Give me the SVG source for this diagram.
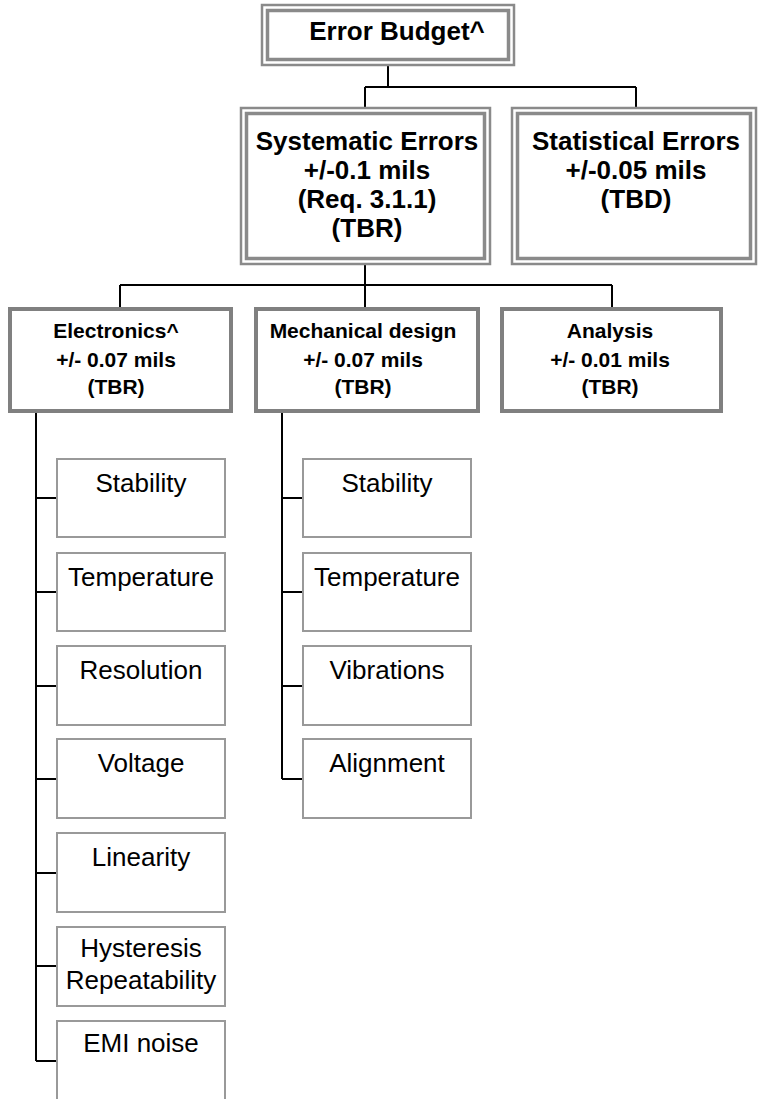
<svg xmlns="http://www.w3.org/2000/svg" width="759" height="1099" viewBox="0 0 759 1099">
<style>
.bg{fill:#fff}
.dbo{fill:#fff;stroke:#8a8a8a;stroke-width:2.5}
.dbi{fill:none;stroke:#8a8a8a;stroke-width:3.5}
.l2{fill:#fff;stroke:#808080;stroke-width:4}
.ch{fill:#fff;stroke:#999;stroke-width:2}
.conn{fill:none;stroke:#000;stroke-width:2}
.tb{font-family:"Liberation Sans",Arial,sans-serif;font-weight:bold;text-anchor:middle;fill:#000}
.big{font-size:26px}
.mid{font-size:21px}
.tr{font-family:"Liberation Sans",Arial,sans-serif;font-size:26px;text-anchor:middle;fill:#000}
</style>
<rect class="bg" x="0" y="0" width="759" height="1099"/>
<g id="connectors">
<path class="conn" d="M388,66 V87 M365,87 H636 M365,87 V107 M636,87 V107"/>
<path class="conn" d="M365,265 V285 M120,285 H612 M120,285 V307 M365,285 V307 M612,285 V307"/>
<path class="conn" d="M36,413 V1061 M36,498 H57 M36,592 H57 M36,686 H57 M36,779 H57 M36,873 H57 M36,966 H57 M36,1061 H57"/>
<path class="conn" d="M282,413 V779 M282,498 H303 M282,592 H303 M282,686 H303 M282,779 H303"/>
</g>
<g id="error-budget">
<rect class="dbo" x="262" y="5" width="252" height="60"/>
<rect class="dbi" x="267.5" y="10.5" width="241" height="49"/>
<text class="tb big" x="397" y="40">Error Budget^</text>
</g>
<g id="systematic">
<rect class="dbo" x="241" y="108" width="249" height="156"/>
<rect class="dbi" x="246.5" y="113.5" width="238" height="145"/>
<text class="tb big" x="367" y="150">Systematic Errors</text>
<text class="tb big" x="367" y="179">+/-0.1 mils</text>
<text class="tb big" x="367" y="208">(Req. 3.1.1)</text>
<text class="tb big" x="367" y="237">(TBR)</text>
</g>
<g id="statistical">
<rect class="dbo" x="512" y="108" width="244" height="156"/>
<rect class="dbi" x="517.5" y="113.5" width="233" height="145"/>
<text class="tb big" x="636" y="150">Statistical Errors</text>
<text class="tb big" x="636" y="179">+/-0.05 mils</text>
<text class="tb big" x="636" y="208">(TBD)</text>
</g>
<g id="electronics">
<rect class="l2" x="10" y="309" width="221" height="102"/>
<text class="tb mid" x="116" y="338">Electronics^</text>
<text class="tb mid" x="116" y="367">+/- 0.07 mils</text>
<text class="tb mid" x="116" y="394">(TBR)</text>
</g>
<g id="mechanical">
<rect class="l2" x="256" y="309" width="222" height="102"/>
<text class="tb mid" x="363" y="338">Mechanical design</text>
<text class="tb mid" x="363" y="367">+/- 0.07 mils</text>
<text class="tb mid" x="363" y="394">(TBR)</text>
</g>
<g id="analysis">
<rect class="l2" x="502" y="309" width="219" height="102"/>
<text class="tb mid" x="610" y="338">Analysis</text>
<text class="tb mid" x="610" y="367">+/- 0.01 mils</text>
<text class="tb mid" x="610" y="394">(TBR)</text>
</g>
<g id="e-stability"><rect class="ch" x="57" y="459" width="168" height="78"/><text class="tr" x="141" y="492">Stability</text></g>
<g id="e-temperature"><rect class="ch" x="57" y="553" width="168" height="78"/><text class="tr" x="141" y="586">Temperature</text></g>
<g id="e-resolution"><rect class="ch" x="57" y="646" width="168" height="79"/><text class="tr" x="141" y="679">Resolution</text></g>
<g id="e-voltage"><rect class="ch" x="57" y="739" width="168" height="79"/><text class="tr" x="141" y="772">Voltage</text></g>
<g id="e-linearity"><rect class="ch" x="57" y="833" width="168" height="79"/><text class="tr" x="141" y="866">Linearity</text></g>
<g id="e-hysteresis"><rect class="ch" x="57" y="927" width="168" height="79"/><text class="tr" x="141" y="957">Hysteresis</text><text class="tr" x="141" y="989">Repeatability</text></g>
<g id="e-emi"><rect class="ch" x="57" y="1021" width="168" height="90"/><text class="tr" x="141" y="1052">EMI noise</text></g>
<g id="m-stability"><rect class="ch" x="303" y="459" width="168" height="78"/><text class="tr" x="387" y="492">Stability</text></g>
<g id="m-temperature"><rect class="ch" x="303" y="553" width="168" height="78"/><text class="tr" x="387" y="586">Temperature</text></g>
<g id="m-vibrations"><rect class="ch" x="303" y="646" width="168" height="79"/><text class="tr" x="387" y="679">Vibrations</text></g>
<g id="m-alignment"><rect class="ch" x="303" y="739" width="168" height="79"/><text class="tr" x="387" y="772">Alignment</text></g>
</svg>
